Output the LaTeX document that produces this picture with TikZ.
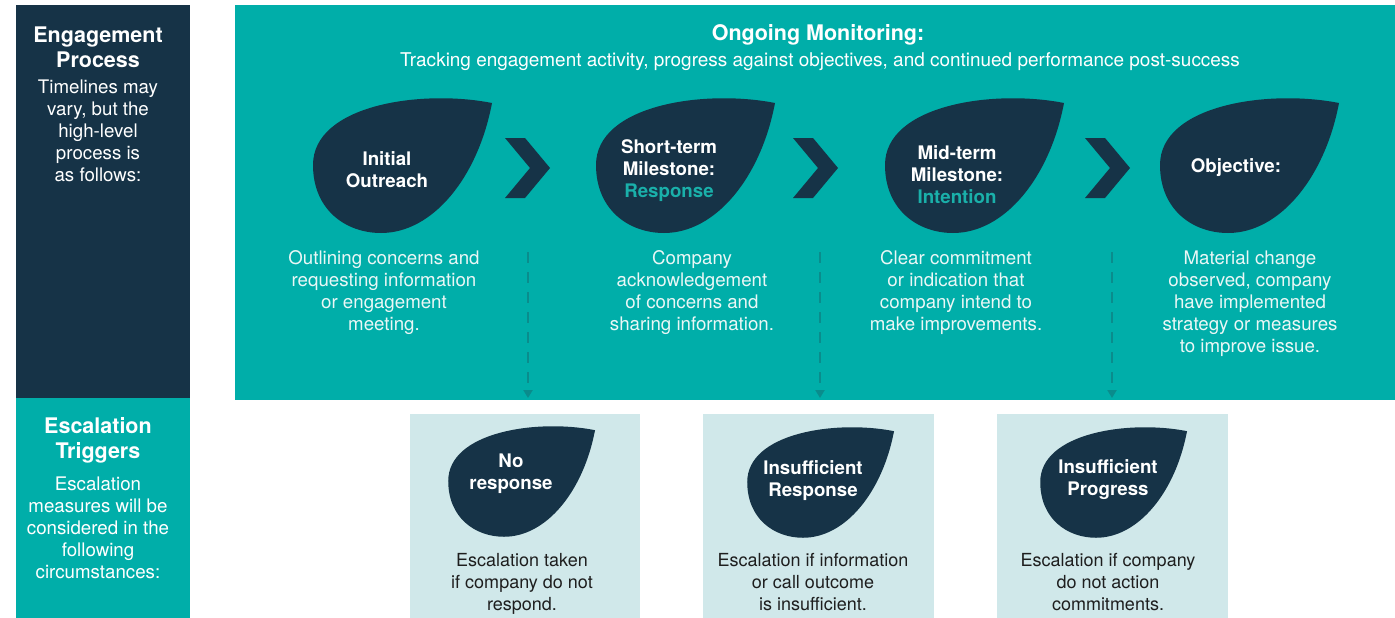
\documentclass[tikz,border=0pt]{standalone}
\usepackage{fontspec}
\setmainfont{TeX Gyre Heros}
\usetikzlibrary{arrows.meta}
\definecolor{navy}{HTML}{163347}
\definecolor{teal}{HTML}{00AEA9}
\definecolor{paleteal}{HTML}{D0E8EA}
\definecolor{deepteal}{HTML}{0A8C8C}
\definecolor{accent}{HTML}{1AB0AA}
\definecolor{offwhite}{HTML}{EAF7F6}
\definecolor{ink}{HTML}{1E1E1E}
\tikzset{
  leaf/.pic = {
    \fill[navy] (111,-62) .. controls (40,-76) and (-68,-60) .. (-68,0)
      .. controls (-68,45) and (-35,68) .. (0,68)
      .. controls (52,68) and (97,12) .. (111,-62) -- cycle;
  },
  chev/.pic = {
    \fill[navy] (0,0) -- (20,0) -- (45,30) -- (20,60) -- (0,60) -- (25,30) -- cycle;
  },
  head/.style = {text=white, inner sep=0pt, align=center,
                 font=\bfseries\fontsize{21.5}{25}\selectfont},
  sub/.style = {text=white, inner sep=0pt, align=center,
                font=\fontsize{18.7}{22}\selectfont},
  leaftext/.style = {text=white, inner sep=0pt, align=center,
                     font=\bfseries\fontsize{18.7}{22}\selectfont},
  note/.style = {text=offwhite, inner sep=0pt, align=center,
                 font=\fontsize{18.7}{22}\selectfont},
  boxnote/.style = {text=ink, inner sep=0pt, align=center,
                    font=\fontsize{18}{22}\selectfont},
  trigbox/.style = {fill=paleteal, inner sep=0pt,
                    minimum width=230pt, minimum height=204pt},
  esc/.style = {draw=deepteal, line width=2.5pt, dash pattern=on 11pt off 9pt,
                -{Triangle[width=9pt,length=8pt]}}
}

\begin{document}
\begin{tikzpicture}[x=1pt, y=-1pt]
	\useasboundingbox (0,0) rectangle (1395,618);
	\fill[white] (0,0) rectangle (1395,618);

	% Side column
	\fill[navy] (16,5) rectangle (190,398);
	\fill[teal] (16,398) rectangle (190,618);
	\node[head] (engtitle) at (98,47) {Engagement\\Process};
	\node[sub] (engtext) at (98,131) {Timelines may\\vary, but the\\high-level\\process is\\as follows:};
	\node[head] (esctitle) at (98,440) {Escalation\\Triggers};
	\node[sub] (esctext) at (98,528) {Escalation\\measures will be\\considered in the\\following\\circumstances:};

	% Process panel
	\fill[teal] (235,5) rectangle (1395,400);
	\node[head] (montitle) at (818,35) {Ongoing Monitoring:};
	\node[sub, font=\fontsize{18.95}{22}\selectfont] (montext) at (820,62) {Tracking engagement activity, progress against objectives, and continued performance post-success};

	% Leaves (process)
	\pic at (381,165) {leaf};
	\pic at (664,165) {leaf};
	\pic at (953,165) {leaf};
	\pic at (1228,165) {leaf};
	\node[leaftext] (outreach) at (387,170) {Initial\\Outreach};
	\node[leaftext] (shortterm) at (669,171) {Short-term\\Milestone:\\\textcolor{accent}{Response}};
	\node[leaftext] (midterm) at (957,175) {Mid-term\\Milestone:\\\textcolor{accent}{Intention}};
	\node[leaftext] (objective) at (1236,168) {Objective:};

	% Chevrons
	\pic at (505,138) {chev};
	\pic at (793,138) {chev};
	\pic at (1085,138) {chev};

	% Step notes
	\node[note] (outreachnote) at (384,293) {Outlining concerns and\\requesting information\\or engagement\\meeting.};
	\node[note] (shorttermnote) at (692,293) {Company\\acknowledgement\\of concerns and\\sharing information.};
	\node[note] (midtermnote) at (956,293) {Clear commitment\\or indication that\\company intend to\\make improvements.};
	\node[note] (objectivenote) at (1250,304) {Material change\\observed, company\\have implemented\\strategy or measures\\to improve issue.};

	% Trigger boxes
	\node[trigbox] (box1) at (525,516) {};
	\node[trigbox, minimum width=231pt] (box2) at (818.5,516) {};
	\node[trigbox, minimum width=231pt] (box3) at (1112.5,516) {};

	% Leaves (triggers)
	\pic[scale=0.82] at (504,481) {leaf};
	\pic[scale=0.82] at (803,482) {leaf};
	\pic[scale=0.82] at (1096,482) {leaf};
	\node[leaftext] (noresp) at (511,474) {No\\response};
	\node[leaftext] (insresp) at (813,481) {Insufficient\\Response};
	\node[leaftext] (insprog) at (1108,480) {Insufficient\\Progress};
	\node[boxnote] (norespnote) at (522,584) {Escalation taken\\if company do not\\respond.};
	\node[boxnote] (insrespnote) at (813,582) {Escalation if information\\or call outcome\\is insufficient.};
	\node[boxnote] (insprognote) at (1108,582) {Escalation if company\\do not action\\commitments.};

	% Escalation arrows
	\coordinate (esc1a) at (528,252);
	\coordinate (esc1b) at (528,398);
	\coordinate (esc2a) at (820,252);
	\coordinate (esc2b) at (820,398);
	\coordinate (esc3a) at (1112,252);
	\coordinate (esc3b) at (1112,398);
	\draw[esc] (esc1a) -- (esc1b);
	\draw[esc] (esc2a) -- (esc2b);
	\draw[esc] (esc3a) -- (esc3b);
\end{tikzpicture}
\end{document}
